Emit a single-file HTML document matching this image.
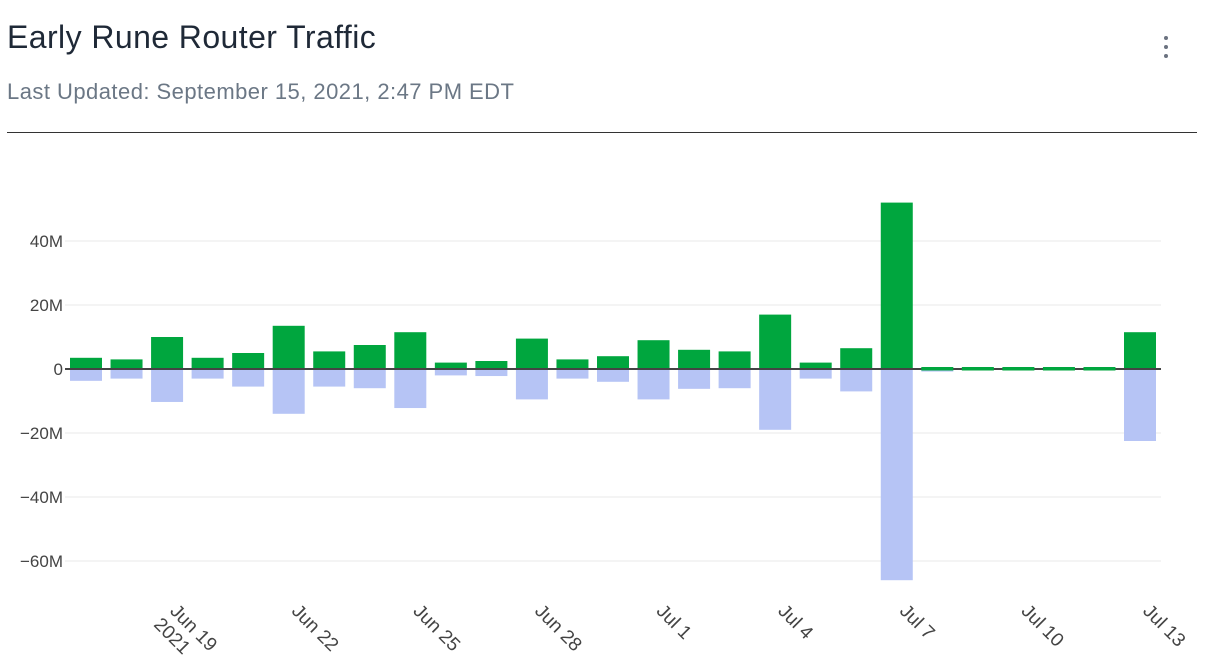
<!DOCTYPE html>
<html><head><meta charset="utf-8"><style>
body{margin:0;width:1212px;height:672px;background:#fff;font-family:"Liberation Sans","DejaVu Sans",sans-serif;overflow:hidden;position:relative}
.title{position:absolute;left:7px;top:19px;font-size:32px;letter-spacing:0.42px;color:#1f2937}
.sub{position:absolute;left:7px;top:79px;font-size:22px;letter-spacing:0.46px;color:#6b7785}
.rule{position:absolute;left:7px;top:132px;width:1190px;height:1px;background:#333}
.kebab{position:absolute;left:1158px;top:36px;width:16px;height:30px;cursor:pointer}
.kebab i{display:block;width:4px;height:4px;border-radius:2px;background:#6b7280;margin:0 auto 5px}
</style></head><body>
<div class="title">Early Rune Router Traffic</div>
<div class="sub">Last Updated: September 15, 2021, 2:47 PM EDT</div>
<div class="kebab"><i></i><i></i><i></i></div>
<div class="rule"></div>
<svg id="chart" width="1212" height="672" style="position:absolute;left:0;top:0"></svg>
<script>
const categories=["Jun 17","Jun 18","Jun 19","Jun 20","Jun 21","Jun 22","Jun 23","Jun 24","Jun 25","Jun 26","Jun 27","Jun 28","Jun 29","Jun 30","Jul 1","Jul 2","Jul 3","Jul 4","Jul 5","Jul 6","Jul 7","Jul 8","Jul 9","Jul 10","Jul 11","Jul 12","Jul 13"];
const inbound=[3.5,3,10,3.5,5,13.5,5.5,7.5,11.5,2,2.5,9.5,3,4,9,6,5.5,17,2,6.5,52,0.5,0.3,0.3,0.3,0.3,11.5];
const outbound=[-3.7,-3,-10.3,-3,-5.5,-14,-5.5,-6,-12.2,-2,-2.2,-9.5,-3,-4,-9.5,-6.2,-6,-19,-3,-7,-66,-0.8,-0.3,-0.3,-0.3,-0.3,-22.5];
const yTicks=[40,20,0,-20,-40,-60];
const yTickLabels=["40M","20M","0","\u221220M","\u221240M","\u221260M"];
const xTickIdx=[2,5,8,11,14,17,20,23,26];
const xTickLabels=["Jun 19","Jun 22","Jun 25","Jun 28","Jul 1","Jul 4","Jul 7","Jul 10","Jul 13"];

const svg=document.getElementById('chart');
const NS='http://www.w3.org/2000/svg';
const x0=65,x1=1161,firstC=86,step=(1140-86)/26,barW=32;
const y=v=>369-v*3.2;
const xc=i=>firstC+i*step;
function mk(t,a){const e=document.createElementNS(NS,t);for(const k in a)e.setAttribute(k,a[k]);svg.appendChild(e);return e;}
yTicks.forEach((v,i)=>{
 if(v!==0){const g=mk('line',{x1:x0,x2:x1,y1:y(v),y2:y(v),stroke:'#e8e8e8','stroke-width':1});
 
 }
 const t=mk('text',{x:63,y:y(v)+6,'text-anchor':'end','font-size':17,fill:'#444'});
 t.textContent=yTickLabels[i];
 
 
});
const small=[];
categories.forEach((c,i)=>{
 const a=inbound[i],b=outbound[i];
 const r2=mk('rect',{x:xc(i)-barW/2,y:y(0),width:barW,height:Math.max(Math.abs(b)*3.2,1.5),fill:'#b6c4f5'});
 
 
 if(a*3.2<3){small.push(i);return;}
 const r1=mk('rect',{x:xc(i)-barW/2,y:y(a),width:barW,height:a*3.2,fill:'#00a63e'});
 
 
});
const z=mk('line',{x1:x0,x2:x1,y1:y(0),y2:y(0),stroke:'#444','stroke-width':2});


small.forEach(i=>{
 const r=mk('rect',{x:xc(i)-barW/2,y:y(0)-2,width:barW,height:Math.max(inbound[i]*3.2,3.5),fill:'#00a63e'});
 
 
});
xTickIdx.forEach((idx,k)=>{
 const px=xc(idx);
 const tr=`translate(${px+2},${612}) rotate(45)`;
 const t=mk('text',{x:0,y:0,'font-size':19,fill:'#444',transform:tr});
 t.textContent=xTickLabels[k];
 
 
 if(k===0){const t2=mk('text',{x:-2,y:21,'font-size':19,fill:'#444',transform:tr});
 t2.textContent='2021';
 
 }
});
</script>
</body></html>
